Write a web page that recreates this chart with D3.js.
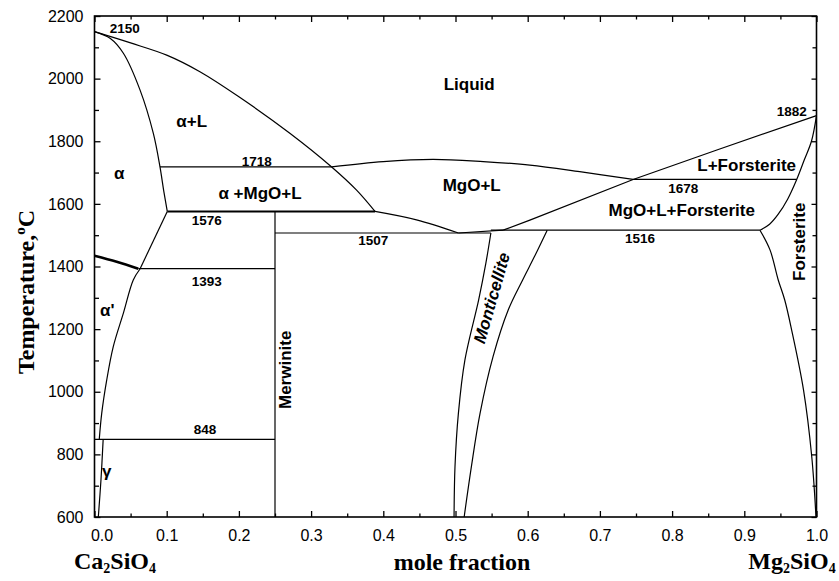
<!DOCTYPE html>
<html><head><meta charset="utf-8">
<script src="https://cdn.jsdelivr.net/npm/d3@7"></script>
<style>body{margin:0;background:#fff}svg{display:block}</style>
</head><body>
<svg id="c" width="839" height="581"></svg>
<script>
// ---------- DATA ----------
const xMajorTicks = [0,0.1,0.2,0.3,0.4,0.5,0.6,0.7,0.8,0.9,1.0];
const xTickLabels = ["0.0","0.1","0.2","0.3","0.4","0.5","0.6","0.7","0.8","0.9","1.0"];
const xMinorTicks = [0.05,0.15,0.25,0.35,0.45,0.55,0.65,0.75,0.85,0.95];
const yMajorTicks = [600,800,1000,1200,1400,1600,1800,2000,2200];
const yTickLabels = ["600","800","1000","1200","1400","1600","1800","2000","2200"];
const yMinorTicks = [700,900,1100,1300,1500,1700,1900,2100];

// phase boundaries: [mole fraction Mg2SiO4, temperature °C]
const liquidusAlpha = [[0,2150],[0.05,2114],[0.1,2075],[0.146,2022],[0.2,1942],[0.271,1825],[0.3285,1718],[0.363,1644],[0.3885,1576]];
const solidusAlpha = [[0,2150],[0.022,2128],[0.04,2081],[0.063,1964],[0.0815,1825],[0.0907,1718],[0.096,1640],[0.1008,1576]];
const alphaPrimeEdge = [[0.1008,1576],[0.063,1392]];
const alphaPrimeCurve = [[0.063,1392],[0.0537,1357],[0.04,1251],[0.026,1144],[0.0169,1037],[0.01,931],[0.0066,848]];
const gammaEdge = [[0.012,848],[0.009,720],[0.0053,600]];
const alphaTransition = [[0,1434],[0.0307,1415],[0.0607,1393]];
const mgoLiquidus = [[0.3285,1718],[0.4,1735],[0.469,1742],[0.5385,1735],[0.603,1724],[0.672,1703],[0.746,1678]];
const mgoLower = [[0.3885,1576],[0.446,1549],[0.504,1507]];
const peritecticLiquid = [[0.504,1507],[0.566,1516]];
const forsteriteLiquidus = [[1.0,1882],[0.862,1772],[0.746,1678],[0.603,1548],[0.566,1516]];
const forsteriteSolidus = [[1.0,1882],[0.993,1800],[0.983,1740],[0.9726,1678],[0.96,1615],[0.947,1567],[0.935,1535],[0.9217,1516]];
const forsteriteSolvus = [[0.9217,1516],[0.9356,1453],[0.947,1357],[0.956,1293],[0.9656,1197],[0.982,1006],[0.9934,793],[0.9993,600]];
const monticelliteLeft = [[0.549,1507],[0.542,1410],[0.532,1293],[0.513,1101],[0.504,931],[0.4993,761],[0.498,600]];
const monticelliteRight = [[0.627,1516],[0.609,1430],[0.593,1357],[0.573,1261],[0.552,1112],[0.534,931],[0.522,761],[0.512,600]];
const merwinite = [[0.25,1576],[0.25,600]];

// isotherms: temperature, start x, end x
const isoT = [1718,1576,1393,848,1507,1516,1678];
const isoX0 = [0.0907,0.1008,0.0607,0,0.25,0.549,0.746];
const isoX1 = [0.3285,0.3885,0.25,0.25,0.549,0.9217,0.9726];
const isoBold = [false,true,false,false,false,false,false];

// annotations (data coordinates)
const numLabels = ["2150","1718","1576","1393","848","1507","1516","1678","1882"];
const numX = [0.042,0.2247,0.1554,0.1554,0.153,0.386,0.7555,0.8155,0.9657];
const numT = [2161,1735,1546,1351,878,1482,1490,1650,1894];

const phaseLabels = ["α+L","α","α +MgO+L","α'","γ","Liquid","MgO+L","MgO+L+Forsterite","L+Forsterite"];
const phaseX = [0.1346,0.0343,0.2292,0.0177,0.0169,0.519,0.5224,0.8133,0.9033];
const phaseT = [1862,1698,1634,1261,745,1980,1660,1578,1724];

const rotLabels = ["Merwinite","Monticellite","Forsterite"];
const rotX = [0.265,0.5506,0.977];
const rotT = [1070,1299,1479];
const rotAngle = [-90,-74,-90];
const rotItalic = [false,true,false];

// ---------- CHART ----------
const svg = d3.select("#c");
const L = 94.5, R = 816.5, T0 = 16, B = 517;
const x = d3.scaleLinear().domain([0,1]).range([L,R]);
const y = d3.scaleLinear().domain([600,2200]).range([B,T0]);

const sans = "'Liberation Sans', Arial, Helvetica, sans-serif";
const serif = "'Liberation Serif', 'Times New Roman', Times, serif";

// axes
const axB = svg.append("g").attr("transform",`translate(0,${B})`)
  .call(d3.axisBottom(x).tickValues(xMajorTicks).tickSize(-6).tickPadding(13)
    .tickFormat((d,i)=>xTickLabels[i]));
svg.append("g").attr("transform",`translate(0,${B})`)
  .call(d3.axisBottom(x).tickValues(xMinorTicks).tickSize(-3.5).tickFormat(""));
svg.append("g").attr("transform",`translate(0,${T0})`)
  .call(d3.axisTop(x).tickValues(xMajorTicks).tickSize(-6).tickFormat(""));
svg.append("g").attr("transform",`translate(0,${T0})`)
  .call(d3.axisTop(x).tickValues(xMinorTicks).tickSize(-3.5).tickFormat(""));
svg.append("g").attr("transform",`translate(${L},0)`)
  .call(d3.axisLeft(y).tickValues(yMajorTicks).tickSize(-6).tickPadding(11)
    .tickFormat((d,i)=>yTickLabels[i]));
svg.append("g").attr("transform",`translate(${L},0)`)
  .call(d3.axisLeft(y).tickValues(yMinorTicks).tickSize(-4.5).tickFormat(""));
svg.append("g").attr("transform",`translate(${R},0)`)
  .call(d3.axisRight(y).tickValues(yMajorTicks).tickSize(-5).tickFormat(""));
svg.append("g").attr("transform",`translate(${R},0)`)
  .call(d3.axisRight(y).tickValues(yMinorTicks).tickSize(-4).tickFormat(""));

svg.selectAll(".domain").remove();
svg.selectAll(".tick line").attr("stroke","#000").attr("stroke-width",1.3);
svg.selectAll(".tick text").attr("font-family",sans).attr("font-size",16).attr("fill","#000");
axB.select(".tick text").attr("dx",7);

// frame
svg.append("rect").attr("x",L).attr("y",T0).attr("width",R-L).attr("height",B-T0)
  .attr("fill","none").attr("stroke","#000").attr("stroke-width",1.6);

const g = svg.append("g").attr("fill","none").attr("stroke","#000").attr("stroke-width",1.2);
const smooth = d3.line().x(d=>x(d[0])).y(d=>y(d[1])).curve(d3.curveCatmullRom.alpha(0.5));
const straight = d3.line().x(d=>x(d[0])).y(d=>y(d[1]));

[liquidusAlpha,solidusAlpha,alphaPrimeCurve,gammaEdge,mgoLiquidus,mgoLower,
 forsteriteSolidus,forsteriteSolvus,monticelliteLeft,monticelliteRight].forEach(c=>{
  g.append("path").attr("d",smooth(c));
});
[alphaPrimeEdge,peritecticLiquid,forsteriteLiquidus,merwinite].forEach(c=>{
  g.append("path").attr("d",straight(c));
});
g.append("path").attr("d",smooth(alphaTransition)).attr("stroke-width",2.6);

isoT.forEach((t,i)=>{
  g.append("line").attr("x1",x(isoX0[i])).attr("x2",x(isoX1[i]))
    .attr("y1",y(t)).attr("y2",y(t)).attr("stroke-width",isoBold[i]?2:1.2);
});

// labels
const tg = svg.append("g").attr("font-family",sans).attr("font-weight","bold").attr("fill","#000")
  .attr("text-anchor","middle").attr("dominant-baseline","central");
numLabels.forEach((s,i)=>{
  tg.append("text").attr("x",x(numX[i])).attr("y",y(numT[i])).attr("font-size",13.5).text(s);
});
phaseLabels.forEach((s,i)=>{
  tg.append("text").attr("x",x(phaseX[i])).attr("y",y(phaseT[i])).attr("font-size",17).text(s);
});
rotLabels.forEach((s,i)=>{
  tg.append("text").attr("transform",`translate(${x(rotX[i])},${y(rotT[i])}) rotate(${rotAngle[i]})`)
    .attr("font-size",17).attr("font-style",rotItalic[i]?"italic":"normal").text(s);
});

// axis titles
const at = svg.append("g").attr("font-family",serif).attr("font-weight","bold").attr("fill","#000")
  .attr("font-size",24).attr("text-anchor","middle");
const yt = at.append("text").attr("transform","translate(34,292) rotate(-90)");
yt.append("tspan").text("Temperature,");
yt.append("tspan").attr("font-size",15).attr("dy",-9).text("o");
yt.append("tspan").attr("dy",9).text("C");
at.append("text").attr("x",462).attr("y",570).text("mole fraction");
function formula(px, parts){
  const t = at.append("text").attr("x",px).attr("y",569);
  parts.forEach(p=>{
    if (p.sub) t.append("tspan").attr("font-size",14).attr("dy",4).text(p.s);
    else t.append("tspan").attr("dy",p.after?-4:0).text(p.s);
  });
}
formula(115,[{s:"Ca"},{s:"2",sub:true},{s:"SiO",after:true},{s:"4",sub:true}]);
formula(792,[{s:"Mg"},{s:"2",sub:true},{s:"SiO",after:true},{s:"4",sub:true}]);
</script>
</body></html>
